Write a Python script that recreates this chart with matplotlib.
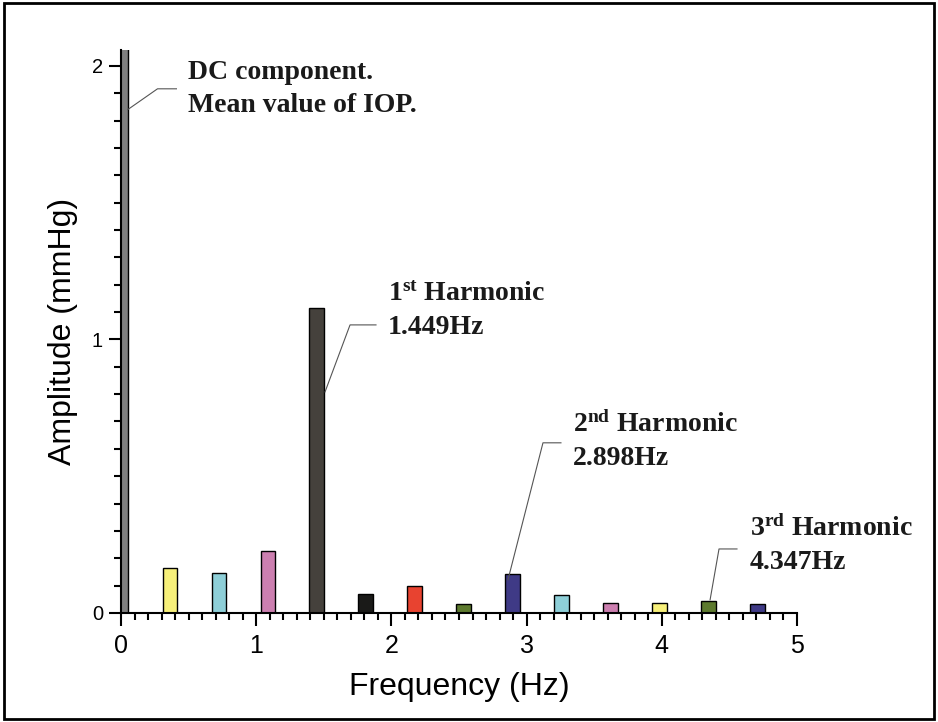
import matplotlib.pyplot as plt
from matplotlib.ticker import MultipleLocator
from matplotlib.patches import Rectangle

# harmonic step of the spectrum (Hz)
freqs = [0.0, 0.362, 0.725, 1.087, 1.449, 1.811, 2.174, 2.536,
         2.898, 3.260, 3.623, 3.985, 4.347, 4.709]
amps = [2.3, 0.165, 0.147, 0.227, 1.115, 0.068, 0.098, 0.033,
        0.141, 0.065, 0.035, 0.035, 0.045, 0.033]
colors = ['#808080', '#f7f07a', '#8ecfd8', '#cc7fb0', '#45413c', '#1a1a18',
          '#e84330', '#5d7a2e', '#3f3a86', '#8ecfd8', '#cc7fb0', '#f7f07a',
          '#5d7a2e', '#3f3a86']

labels = [r'DC component.' + '\n' + r'Mean value of IOP.',
          r'1$^{\mathrm{st}}$ Harmonic' + '\n' + '1.449Hz',
          r'2$^{\mathrm{nd}}$ Harmonic' + '\n' + '2.898Hz',
          r'3$^{\mathrm{rd}}$ Harmonic' + '\n' + '4.347Hz']
# leader line points (data coords): start on bar, elbow, end; text position
leaders = [[(0.05, 1.84), (0.27, 1.916), (0.41, 1.916)],
           [(1.509, 0.808), (1.694, 1.053), (1.886, 1.053)],
           [(2.862, 0.121), (3.121, 0.622), (3.254, 0.622)],
           [(4.357, 0.048), (4.423, 0.234), (4.556, 0.234)]]
text_pos = [(0.495, 2.02), (1.975, 1.21), (3.343, 0.735), (4.652, 0.355)]

plt.rcParams['mathtext.fontset'] = 'custom'
plt.rcParams['mathtext.rm'] = 'Liberation Serif:bold'
plt.rcParams['mathtext.it'] = 'Liberation Serif:bold'
plt.rcParams['mathtext.bf'] = 'Liberation Serif:bold'

fig = plt.figure(figsize=(9.38, 7.22), dpi=100)
ax = fig.add_axes([0.129, 0.151, 0.7207, 0.7798])

ax.bar(freqs, amps, width=0.11, color=colors, edgecolor='black', linewidth=1.0)

ax.set_xlim(0, 5)
ax.set_ylim(0, 2.058)
ax.spines['top'].set_visible(False)
ax.spines['right'].set_visible(False)
ax.spines['left'].set_linewidth(1.5)
ax.spines['bottom'].set_linewidth(1.5)
ax.xaxis.set_major_locator(MultipleLocator(1))
ax.xaxis.set_minor_locator(MultipleLocator(0.1))
ax.yaxis.set_major_locator(MultipleLocator(1))
ax.yaxis.set_minor_locator(MultipleLocator(0.1))
ax.tick_params(which='major', length=9, width=1.5, pad=6)
ax.tick_params(which='minor', length=5, width=1.5)
ax.tick_params(axis='x', labelsize=18)
ax.tick_params(axis='y', labelsize=14.5, pad=4)
for t in ax.get_xticklabels() + ax.get_yticklabels():
    t.set_family('Liberation Sans')

ax.set_xlabel('Frequency (Hz)', family='Liberation Sans', fontsize=23, labelpad=10)
ax.set_ylabel('Amplitude (mmHg)', family='Liberation Sans', fontsize=23, labelpad=10)

for pts, lab, (tx, ty) in zip(leaders, labels, text_pos):
    xs = [p[0] for p in pts]
    ys = [p[1] for p in pts]
    ax.plot(xs, ys, color='#555555', linewidth=0.8, clip_on=False)
    ax.text(tx, ty, lab, family='Liberation Serif', fontweight='bold',
            fontsize=20, va='top', ha='left', linespacing=1.4, color='#1a1a1a')

fig.patches.append(Rectangle((0.004, 0.004), 0.992, 0.992, transform=fig.transFigure,
                             fill=False, edgecolor='black', linewidth=2))

fig.savefig('out.png', dpi=100)
